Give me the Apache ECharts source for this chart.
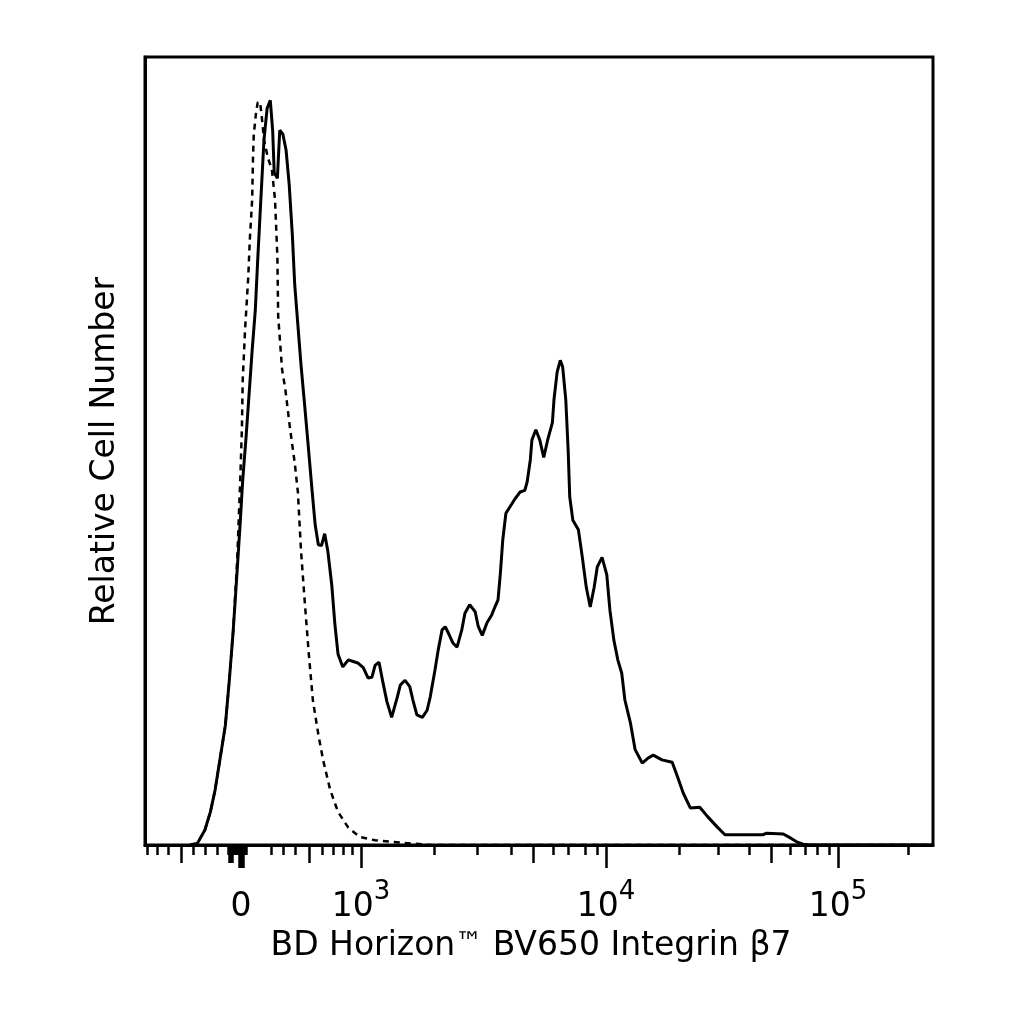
<!DOCTYPE html>
<html>
<head>
<meta charset="utf-8">
<script src="https://cdn.jsdelivr.net/npm/echarts@6/dist/echarts.min.js"></script>
<style>
  html, body { margin: 0; padding: 0; background: #fff; }
  #main { width: 1024px; height: 1024px; }
</style>
</head>
<body>
<div id="main"></div>
<script>
// histogram channels (display scale 0-1000) and relative counts
var stainedX = [57,64,67,76,83,89,95,102,107,112,117,121,124,128,132,136,140,143,147,151,155,159,162,164,168,171,175,179,183,187,190,194,198,202,207,212,216,220,224,228,232,237,241,245,251,258,270,277,283,288,292,297,302,307,313,320,324,330,336,340,345,352,358,362,368,372,377,381,385,391,396,402,406,412,419,423,428,434,440,444,448,451,454,458,463,470,476,482,485,489,491,496,501,506,511,517,519,523,527,530,534,537,539,543,550,555,560,565,570,574,580,586,590,595,600,605,609,616,622,631,638,645,656,669,676,683,692,704,714,726,736,784,789,810,819,827,835,844,1000];
var stainedY = [0,0,0.3,1.9,4.2,7.0,10.8,15.2,20.9,27.3,34.9,41.2,46.3,51.4,57.1,62.8,67.9,74.2,81.9,89.5,93.5,94.5,90.7,85.3,84.6,90.7,90.2,88.2,83.8,77.4,71.1,66.0,60.9,56.5,50.8,45.0,40.6,38.1,38.0,39.5,37.3,33.0,28.0,24.2,22.6,23.5,23.1,22.5,21.2,21.3,22.8,23.2,20.6,18.2,16.2,18.7,20.3,20.9,20.1,18.4,16.5,16.2,17.1,18.8,22.2,24.7,27.3,27.7,26.9,25.6,25.1,27.3,29.4,30.5,29.6,27.7,26.6,28.2,29.2,30.2,31.1,34.5,38.7,42.1,42.9,44.0,44.8,45.0,46.1,48.9,51.4,52.7,51.4,49.2,51.4,53.6,56.5,60.0,61.5,60.7,56.5,50.1,44.2,41.2,40.0,36.5,32.7,30.2,32.7,35.3,36.5,34.3,29.8,26.0,23.5,21.8,18.4,15.5,12.1,10.4,11.0,11.4,10.8,10.5,8.6,6.6,4.7,4.8,3.6,2.3,1.3,1.3,1.5,1.4,0.9,0.4,0.1,0,0];

var isotypeX = [57,67,76,83,89,95,102,107,112,117,121,123,124,127,131,133,136,137,138,141,143,146,148,151,156,161,165,168,169,174,178,184,190,194,198,203,208,213,220,226,235,245,258,273,292,324,362,1000];
var isotypeY = [0,0.3,1.9,4.2,7.0,10.8,15.2,20.9,27.3,36.2,46.7,52.9,59.0,65.4,72.0,76.8,81.9,86.9,90.1,93.0,94.2,94.3,92.6,89.5,87.2,85.7,81.9,74.6,67.1,60.3,57.9,52.9,48.5,44.8,37.3,30.5,24.1,18.4,14.0,10.8,7.0,4.2,2.2,1.0,0.6,0.3,0,0];

// biexponential axis ticks, in display channels
var majorTicks = [119.3,121.8,124.4,274.1,585.0,879.4];
var mediumTicks = [45.7,106.6,108.5,110.4,208.1,492.4,794.4];
var minorTicks = [2.5,15.2,29.2,60.9,76.1,91.4,105.3,106.6,107.9,109.2,110.4,111.7,112.9,114.2,115.5,116.8,118.0,120.6,123.1,125.6,126.9,128.2,159.9,175.1,190.4,224.6,238.6,251.3,262.7,366.7,421.3,464.5,517.8,536.8,558.4,573.6,677.6,727.1,766.5,818.5,837.5,852.8,868.0,968.2];
var labelTicks = [121.8,274.1,585.0,879.4];
var labelBase = ['0','10','10','10'];
var labelExp = ['','3','4','5'];

function zip(xs, ys) {
    return xs.map(function (x, i) { return [x, ys[i]]; });
}

var font = 'DejaVu Sans';

function tickAxis(values, len, extra) {
    var ax = {
        type: 'value',
        min: 0,
        max: 1000,
        position: 'bottom',
        axisLine: { show: false },
        splitLine: { show: false },
        axisLabel: { show: false },
        axisTick: {
            customValues: values,
            length: len,
            lineStyle: { color: '#000', width: 2.5 }
        }
    };
    return Object.assign(ax, extra || {});
}

var chart = echarts.init(document.getElementById('main'));

var option = {
    animation: false,
    backgroundColor: '#fff',
    grid: {
        show: true,
        left: 145,
        right: 91,
        top: 57,
        bottom: 179,
        borderColor: '#000',
        borderWidth: 3
    },
    xAxis: [
        tickAxis(majorTicks, 23, {
            axisLine: { show: true, lineStyle: { color: '#000', width: 3 } },
            axisLabel: {
                show: true,
                customValues: labelTicks,
                margin: 34,
                formatter: function (v) {
                    var i = labelTicks.indexOf(v);
                    if (i < 0) return '';
                    return labelExp[i] ? '{b|' + labelBase[i] + '}{sup|' + labelExp[i] + '}' : '{b|' + labelBase[i] + '}';
                },
                rich: {
                    b: { fontFamily: font, fontSize: 33, color: '#000', lineHeight: 56 },
                    sup: { fontFamily: font, fontSize: 26, color: '#000', lineHeight: 26, verticalAlign: 'top' }
                }
            },
            name: 'BD Horizon{tm|™} BV650 Integrin β7',
            nameLocation: 'middle',
            nameGap: 85,
            nameTextStyle: {
                fontFamily: font, fontSize: 33, color: '#000', padding: [0, 16, 0, 0],
                rich: { tm: { fontFamily: font, fontSize: 27, color: '#000', verticalAlign: 'top', lineHeight: 30 } }
            }
        }),
        tickAxis(mediumTicks, 18),
        tickAxis(minorTicks, 10)
    ],
    yAxis: {
        type: 'value',
        min: 0,
        max: 100,
        axisLine: { show: true, lineStyle: { color: '#000', width: 3 } },
        axisTick: { show: false },
        axisLabel: { show: false },
        splitLine: { show: false },
        name: 'Relative Cell Number',
        nameLocation: 'middle',
        nameGap: 23,
        nameTextStyle: { fontFamily: font, fontSize: 33, color: '#000' }
    },
    series: [
        {
            name: 'isotype',
            type: 'line',
            xAxisIndex: 0,
            data: zip(isotypeX, isotypeY),
            showSymbol: false,
            symbol: 'none',
            lineStyle: { color: '#000', width: 2.5, type: [6, 5] }
        },
        {
            name: 'stained',
            type: 'line',
            xAxisIndex: 0,
            data: zip(stainedX, stainedY),
            showSymbol: false,
            symbol: 'none',
            lineStyle: { color: '#000', width: 3 }
        }
    ]
};

chart.setOption(option);
</script>
</body>
</html>
